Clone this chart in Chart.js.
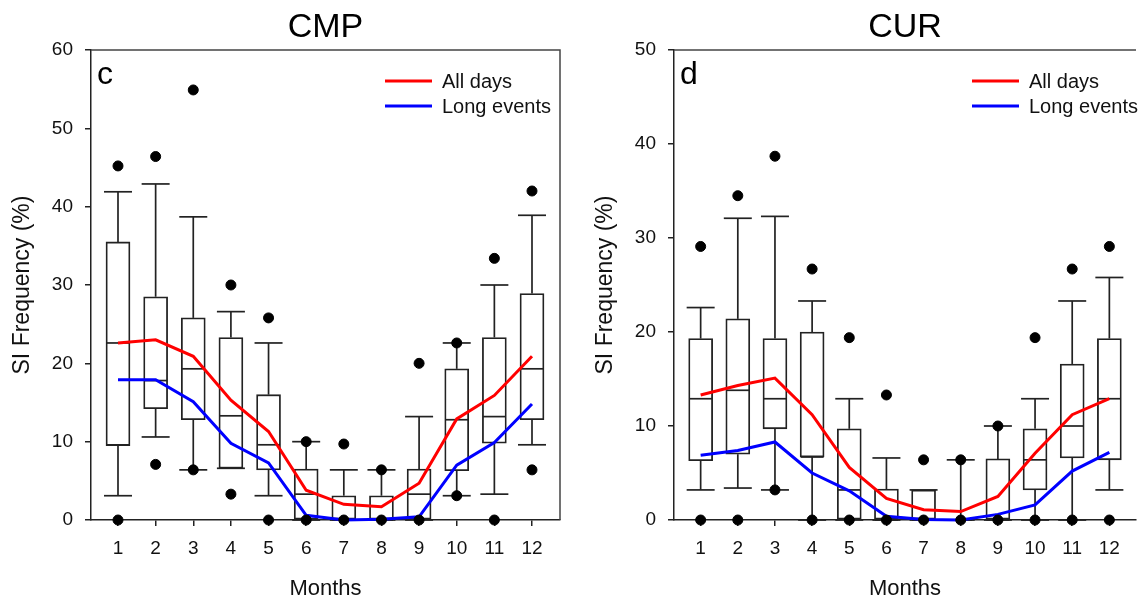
<html lang="en">
<head>
  <meta charset="UTF-8">
  <title>SI Frequency by month - CMP / CUR</title>
  <style>
    body { margin: 0; background: #fff; }
    #left { position: absolute; left: 0; top: 0; }
    #right { position: absolute; left: 583px; top: 0; }
  </style>
  <script src="https://cdn.jsdelivr.net/npm/chart.js@4.4.1/dist/chart.umd.min.js"></script>
</head>
<body>
  <canvas id="left" width="583" height="603"></canvas>
  <canvas id="right" width="559" height="603"></canvas>
  <script>
    const months = [1, 2, 3, 4, 5, 6, 7, 8, 9, 10, 11, 12]

    // CMP box plot stats
    const cmpQ1 = [9.5, 14.2, 12.8, 6.6, 6.4, 0, 0, 0, 0, 6.3, 9.8, 12.8]
    const cmpQ3 = [35.5, 28.5, 25.8, 23.3, 16.0, 6.5, 3.1, 3.1, 6.5, 19.3, 23.3, 28.9]
    const cmpMed = [22.6, 17.8, 19.3, 13.3, 9.6, 3.3, 0, 0, 3.3, 12.8, 13.2, 19.3]
    const cmpLo = [3.1, 10.6, 6.4, 6.6, 3.1, 0, 0, 0, 0, 3.1, 3.3, 9.6]
    const cmpHi = [41.9, 42.9, 38.7, 26.6, 22.6, 10.0, 6.4, 6.4, 13.2, 22.6, 30.0, 38.9]
    const cmpOutHigh = [45.2, 46.4, 54.9, 30.0, 25.8, 10.0, 9.7, 6.4, 20.0, 22.6, 33.4, 42.0]
    const cmpOutLow = [0, 7.1, 6.4, 3.3, 0, 0, 0, 0, 0, 3.1, 0, 6.4]
    const cmpAllDays = [22.6, 23.0, 20.9, 15.3, 11.3, 3.8, 2.0, 1.7, 4.7, 12.9, 15.9, 20.9]
    const cmpLong = [17.9, 17.9, 15.1, 9.8, 7.3, 0.6, 0, 0.1, 0.4, 7.0, 9.9, 14.8]

    // CUR box plot stats
    const curQ1 = [6.3, 7.0, 9.7, 6.7, 0, 0, 0, 0, 0, 3.2, 6.6, 6.4]
    const curQ3 = [19.3, 21.4, 19.3, 20.0, 9.7, 3.3, 3.2, 0, 6.5, 9.7, 16.6, 19.3]
    const curMed = [12.9, 13.8, 12.9, 6.7, 3.2, 0, 0, 0, 0, 6.4, 10.0, 12.9]
    const curLo = [3.2, 3.4, 3.2, 0, 0, 0, 0, 0, 0, 0, 0, 3.2]
    const curHi = [22.6, 32.1, 32.3, 23.3, 12.9, 6.6, 3.2, 6.4, 10.0, 12.9, 23.3, 25.8]
    const curOutHigh = [29.1, 34.5, 38.7, 26.7, 19.4, 13.3, 6.4, 6.4, 10.0, 19.4, 26.7, 29.1]
    const curOutLow = [0, 0, 3.2, 0, 0, 0, 0, 0, 0, 0, 0, 0]
    const curAllDays = [13.3, 14.3, 15.1, 11.2, 5.6, 2.3, 1.1, 0.9, 2.5, 7.1, 11.2, 12.9]
    const curLong = [6.9, 7.4, 8.3, 5.0, 3.1, 0.4, 0.05, 0, 0.6, 1.6, 5.2, 7.2]

    const yTicks = [0, 10, 20, 30, 40, 50, 60]
    const legendLabels = ["All days", "Long events"]

    Chart.defaults.font.family = '"Liberation Sans", Arial, sans-serif'
    Chart.defaults.color = "#111"

    const ink = "#222"

    // whiskers, caps, medians, frame, legend and panel letter
    const boxPlugin = {
      id: "boxplot",
      afterDatasetDraw(chart, args, opts) {
        if (args.index !== 0) return
        const ctx = chart.ctx
        const xs = chart.scales.x
        const ys = chart.scales.y
        ctx.save()
        ctx.strokeStyle = ink
        ctx.lineWidth = 1.7
        months.forEach((m, i) => {
          const x = xs.getPixelForValue(m)
          const line = (x1, y1, x2, y2) => {
            ctx.beginPath()
            ctx.moveTo(x1, y1)
            ctx.lineTo(x2, y2)
            ctx.stroke()
          }
          const yq1 = ys.getPixelForValue(opts.q1[i])
          const yq3 = ys.getPixelForValue(opts.q3[i])
          const yhi = ys.getPixelForValue(opts.hi[i])
          const ylo = ys.getPixelForValue(opts.lo[i])
          const ymed = ys.getPixelForValue(opts.med[i])
          line(x, yq3, x, yhi)
          line(x - 14, yhi, x + 14, yhi)
          line(x, yq1, x, ylo)
          line(x - 14, ylo, x + 14, ylo)
          line(x - 11.5, ymed, x + 11.5, ymed)
        })
        ctx.restore()
      },
      afterDraw(chart, args, opts) {
        const ctx = chart.ctx
        const a = chart.chartArea
        ctx.save()
        ctx.strokeStyle = "#444"
        ctx.lineWidth = 1.5
        ctx.beginPath()
        ctx.moveTo(a.left, a.top)
        ctx.lineTo(a.right, a.top)
        if (opts.frameRight) ctx.lineTo(a.right, a.bottom)
        ctx.stroke()

        ctx.fillStyle = "#000"
        ctx.font = '32px "Liberation Sans", Arial, sans-serif'
        ctx.textBaseline = "alphabetic"
        ctx.fillText(opts.letter, a.left + 6, a.top + 34)

        const colors = ["rgb(255,0,0)", "rgb(0,0,255)"]
        ctx.font = '20px "Liberation Sans", Arial, sans-serif'
        legendLabels.forEach((t, k) => {
          const y = a.top + 31 + k * 25
          ctx.strokeStyle = colors[k]
          ctx.lineWidth = 3
          ctx.beginPath()
          ctx.moveTo(a.left + opts.legendX, y)
          ctx.lineTo(a.left + opts.legendX + 47, y)
          ctx.stroke()
          ctx.fillStyle = "#111"
          ctx.textBaseline = "middle"
          ctx.fillText(t, a.left + opts.legendX + 57, y + 1)
        })
        ctx.restore()
      }
    }

    const makePanel = (id, p) => {
      const outliers = []
      months.forEach((m, i) => {
        outliers.push({ x: m, y: p.outHigh[i] })
        outliers.push({ x: m, y: p.outLow[i] })
      })
      return new Chart(document.getElementById(id), {
        type: "bar",
        data: {
          datasets: [
            {
              type: "bar",
              data: months.map((m, i) => ({ x: m, y: [p.q1[i], p.q3[i]] })),
              backgroundColor: "#fff",
              borderColor: ink,
              borderWidth: 1.8,
              borderSkipped: false,
              barThickness: 24,
              order: 3
            },
            {
              type: "line",
              label: legendLabels[0],
              data: months.map((m, i) => ({ x: m, y: p.allDays[i] })),
              borderColor: "rgb(255,0,0)",
              borderWidth: 3,
              pointRadius: 0,
              tension: 0,
              clip: false,
              order: 1
            },
            {
              type: "line",
              label: legendLabels[1],
              data: months.map((m, i) => ({ x: m, y: p.long[i] })),
              borderColor: "rgb(0,0,255)",
              borderWidth: 3,
              pointRadius: 0,
              tension: 0,
              clip: false,
              order: 1
            },
            {
              type: "scatter",
              data: outliers,
              backgroundColor: "#000",
              borderColor: "#000",
              pointRadius: 5,
              clip: false,
              order: 0
            }
          ]
        },
        options: {
          responsive: false,
          animation: false,
          layout: { padding: { left: 0, right: p.padRight, top: 0, bottom: 0 } },
          plugins: {
            legend: { display: false },
            tooltip: { enabled: false },
            title: {
              display: true,
              text: p.title,
              fullSize: false,
              color: "#000",
              font: { size: 34, weight: "normal" },
              padding: { top: 7, bottom: 2.2 }
            },
            boxplot: {
              q1: p.q1, q3: p.q3, med: p.med, lo: p.lo, hi: p.hi,
              letter: p.letter, legendX: p.legendX, frameRight: p.frameRight
            }
          },
          scales: {
            x: {
              type: "linear",
              min: 0.2827,
              max: p.xMax,
              offset: false,
              afterBuildTicks: s => { s.ticks = months.map(v => ({ value: v })) },
              afterFit: s => { s.height = 83 },
              grid: { drawOnChartArea: false, offset: false, tickLength: 6, color: ink, lineWidth: 1.5 },
              border: { color: ink, width: 1.5 },
              ticks: { padding: 11, font: { size: 19 }, color: "#111" },
              title: { display: true, text: "Months", font: { size: 22 }, color: "#111", padding: { top: 0, bottom: 1 } }
            },
            y: {
              min: 0,
              max: p.yMax,
              afterBuildTicks: s => { s.ticks = yTicks.filter(v => v <= p.yMax).map(v => ({ value: v })) },
              afterFit: s => { s.width = 91 },
              grid: { drawOnChartArea: false, tickLength: 6, color: ink, lineWidth: 1.5 },
              border: { color: ink, width: 1.5 },
              ticks: { padding: 12, font: { size: 19 }, color: "#111" },
              title: { display: true, text: "SI Frequency (%)", font: { size: 23 }, color: "#111", padding: { top: 9, bottom: 0 } }
            }
          }
        },
        plugins: [boxPlugin]
      })
    }

    makePanel("left", {
      title: "CMP", letter: "c", yMax: 60, xMax: 12.744, padRight: 23, legendX: 294, frameRight: true,
      q1: cmpQ1, q3: cmpQ3, med: cmpMed, lo: cmpLo, hi: cmpHi,
      outHigh: cmpOutHigh, outLow: cmpOutLow, allDays: cmpAllDays, long: cmpLong
    })
    makePanel("right", {
      title: "CUR", letter: "d", yMax: 50, xMax: 12.717, padRight: 0, legendX: 298, frameRight: false,
      q1: curQ1, q3: curQ3, med: curMed, lo: curLo, hi: curHi,
      outHigh: curOutHigh, outLow: curOutLow, allDays: curAllDays, long: curLong
    })
  </script>
</body>
</html>
